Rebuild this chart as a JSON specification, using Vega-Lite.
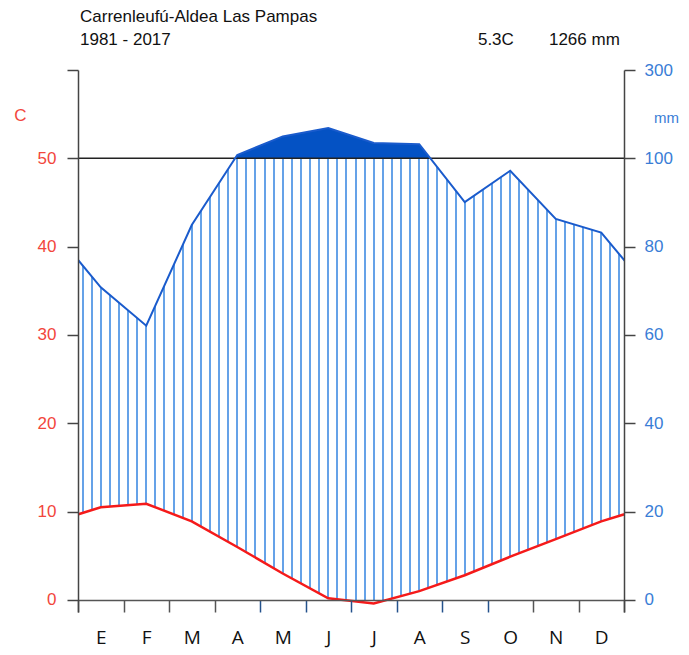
{
  "$schema": "https://vega.github.io/schema/vega-lite/v6.json",
  "width": 546,
  "height": 542,
  "autosize": {"type": "none"},
  "padding": {"left": 78, "top": 70, "right": 65, "bottom": 43},
  "background": "white",
  "data": {"values": [
    {"m": -0.5, "month": "D", "T": 8.9, "P": 83.2},
    {"m": 0.5, "month": "E", "T": 10.5, "P": 70.8},
    {"m": 1.5, "month": "F", "T": 10.9, "P": 62.1},
    {"m": 2.5, "month": "M", "T": 8.9, "P": 84.9},
    {"m": 3.5, "month": "A", "T": 6.0, "P": 107.6},
    {"m": 4.5, "month": "M", "T": 3.0, "P": 149.6},
    {"m": 5.5, "month": "J", "T": 0.2, "P": 168.4},
    {"m": 6.5, "month": "J", "T": -0.4, "P": 134.6},
    {"m": 7.5, "month": "A", "T": 1.0, "P": 132.0},
    {"m": 8.5, "month": "S", "T": 2.8, "P": 90.1},
    {"m": 9.5, "month": "O", "T": 4.9, "P": 97.2},
    {"m": 10.5, "month": "N", "T": 6.9, "P": 86.3},
    {"m": 11.5, "month": "D", "T": 8.9, "P": 83.2},
    {"m": 12.5, "month": "E", "T": 10.5, "P": 70.8}
  ]},
  "layer": [
    {
      "mark": {"type": "area", "clip": true, "color": {"gradient": "linear", "x1": 0, "y1": 0, "x2": 1, "y2": 0, "stops": [
        {"offset": 0, "color": "#fff"},
        {"offset": 0.0445, "color": "#fff"}, {"offset": 0.0445, "color": "#65a2e8"}, {"offset": 0.0479, "color": "#65a2e8"}, {"offset": 0.0479, "color": "#fff"},
        {"offset": 0.0598, "color": "#fff"}, {"offset": 0.0598, "color": "#65a2e8"}, {"offset": 0.0632, "color": "#65a2e8"}, {"offset": 0.0632, "color": "#fff"},
        {"offset": 0.0752, "color": "#fff"}, {"offset": 0.0752, "color": "#65a2e8"}, {"offset": 0.0786, "color": "#65a2e8"}, {"offset": 0.0786, "color": "#fff"},
        {"offset": 0.0906, "color": "#fff"}, {"offset": 0.0906, "color": "#65a2e8"}, {"offset": 0.0940, "color": "#65a2e8"}, {"offset": 0.0940, "color": "#fff"},
        {"offset": 0.1060, "color": "#fff"}, {"offset": 0.1060, "color": "#65a2e8"}, {"offset": 0.1094, "color": "#65a2e8"}, {"offset": 0.1094, "color": "#fff"},
        {"offset": 0.1214, "color": "#fff"}, {"offset": 0.1214, "color": "#65a2e8"}, {"offset": 0.1248, "color": "#65a2e8"}, {"offset": 0.1248, "color": "#fff"},
        {"offset": 0.1368, "color": "#fff"}, {"offset": 0.1368, "color": "#65a2e8"}, {"offset": 0.1402, "color": "#65a2e8"}, {"offset": 0.1402, "color": "#fff"},
        {"offset": 0.1521, "color": "#fff"}, {"offset": 0.1521, "color": "#65a2e8"}, {"offset": 0.1555, "color": "#65a2e8"}, {"offset": 0.1555, "color": "#fff"},
        {"offset": 0.1675, "color": "#fff"}, {"offset": 0.1675, "color": "#65a2e8"}, {"offset": 0.1709, "color": "#65a2e8"}, {"offset": 0.1709, "color": "#fff"},
        {"offset": 0.1829, "color": "#fff"}, {"offset": 0.1829, "color": "#65a2e8"}, {"offset": 0.1863, "color": "#65a2e8"}, {"offset": 0.1863, "color": "#fff"},
        {"offset": 0.1983, "color": "#fff"}, {"offset": 0.1983, "color": "#65a2e8"}, {"offset": 0.2017, "color": "#65a2e8"}, {"offset": 0.2017, "color": "#fff"},
        {"offset": 0.2137, "color": "#fff"}, {"offset": 0.2137, "color": "#65a2e8"}, {"offset": 0.2171, "color": "#65a2e8"}, {"offset": 0.2171, "color": "#fff"},
        {"offset": 0.2291, "color": "#fff"}, {"offset": 0.2291, "color": "#65a2e8"}, {"offset": 0.2325, "color": "#65a2e8"}, {"offset": 0.2325, "color": "#fff"},
        {"offset": 0.2445, "color": "#fff"}, {"offset": 0.2445, "color": "#65a2e8"}, {"offset": 0.2479, "color": "#65a2e8"}, {"offset": 0.2479, "color": "#fff"},
        {"offset": 0.2598, "color": "#fff"}, {"offset": 0.2598, "color": "#65a2e8"}, {"offset": 0.2632, "color": "#65a2e8"}, {"offset": 0.2632, "color": "#fff"},
        {"offset": 0.2752, "color": "#fff"}, {"offset": 0.2752, "color": "#65a2e8"}, {"offset": 0.2786, "color": "#65a2e8"}, {"offset": 0.2786, "color": "#fff"},
        {"offset": 0.2906, "color": "#fff"}, {"offset": 0.2906, "color": "#65a2e8"}, {"offset": 0.2940, "color": "#65a2e8"}, {"offset": 0.2940, "color": "#fff"},
        {"offset": 0.3060, "color": "#fff"}, {"offset": 0.3060, "color": "#65a2e8"}, {"offset": 0.3094, "color": "#65a2e8"}, {"offset": 0.3094, "color": "#fff"},
        {"offset": 0.3214, "color": "#fff"}, {"offset": 0.3214, "color": "#65a2e8"}, {"offset": 0.3248, "color": "#65a2e8"}, {"offset": 0.3248, "color": "#fff"},
        {"offset": 0.3368, "color": "#fff"}, {"offset": 0.3368, "color": "#65a2e8"}, {"offset": 0.3402, "color": "#65a2e8"}, {"offset": 0.3402, "color": "#fff"},
        {"offset": 0.3521, "color": "#fff"}, {"offset": 0.3521, "color": "#65a2e8"}, {"offset": 0.3555, "color": "#65a2e8"}, {"offset": 0.3555, "color": "#fff"},
        {"offset": 0.3675, "color": "#fff"}, {"offset": 0.3675, "color": "#65a2e8"}, {"offset": 0.3709, "color": "#65a2e8"}, {"offset": 0.3709, "color": "#fff"},
        {"offset": 0.3829, "color": "#fff"}, {"offset": 0.3829, "color": "#65a2e8"}, {"offset": 0.3863, "color": "#65a2e8"}, {"offset": 0.3863, "color": "#fff"},
        {"offset": 0.3983, "color": "#fff"}, {"offset": 0.3983, "color": "#65a2e8"}, {"offset": 0.4017, "color": "#65a2e8"}, {"offset": 0.4017, "color": "#fff"},
        {"offset": 0.4137, "color": "#fff"}, {"offset": 0.4137, "color": "#65a2e8"}, {"offset": 0.4171, "color": "#65a2e8"}, {"offset": 0.4171, "color": "#fff"},
        {"offset": 0.4291, "color": "#fff"}, {"offset": 0.4291, "color": "#65a2e8"}, {"offset": 0.4325, "color": "#65a2e8"}, {"offset": 0.4325, "color": "#fff"},
        {"offset": 0.4445, "color": "#fff"}, {"offset": 0.4445, "color": "#65a2e8"}, {"offset": 0.4479, "color": "#65a2e8"}, {"offset": 0.4479, "color": "#fff"},
        {"offset": 0.4598, "color": "#fff"}, {"offset": 0.4598, "color": "#65a2e8"}, {"offset": 0.4632, "color": "#65a2e8"}, {"offset": 0.4632, "color": "#fff"},
        {"offset": 0.4752, "color": "#fff"}, {"offset": 0.4752, "color": "#65a2e8"}, {"offset": 0.4786, "color": "#65a2e8"}, {"offset": 0.4786, "color": "#fff"},
        {"offset": 0.4906, "color": "#fff"}, {"offset": 0.4906, "color": "#65a2e8"}, {"offset": 0.4940, "color": "#65a2e8"}, {"offset": 0.4940, "color": "#fff"},
        {"offset": 0.5060, "color": "#fff"}, {"offset": 0.5060, "color": "#65a2e8"}, {"offset": 0.5094, "color": "#65a2e8"}, {"offset": 0.5094, "color": "#fff"},
        {"offset": 0.5214, "color": "#fff"}, {"offset": 0.5214, "color": "#65a2e8"}, {"offset": 0.5248, "color": "#65a2e8"}, {"offset": 0.5248, "color": "#fff"},
        {"offset": 0.5368, "color": "#fff"}, {"offset": 0.5368, "color": "#65a2e8"}, {"offset": 0.5402, "color": "#65a2e8"}, {"offset": 0.5402, "color": "#fff"},
        {"offset": 0.5521, "color": "#fff"}, {"offset": 0.5521, "color": "#65a2e8"}, {"offset": 0.5555, "color": "#65a2e8"}, {"offset": 0.5555, "color": "#fff"},
        {"offset": 0.5675, "color": "#fff"}, {"offset": 0.5675, "color": "#65a2e8"}, {"offset": 0.5709, "color": "#65a2e8"}, {"offset": 0.5709, "color": "#fff"},
        {"offset": 0.5829, "color": "#fff"}, {"offset": 0.5829, "color": "#65a2e8"}, {"offset": 0.5863, "color": "#65a2e8"}, {"offset": 0.5863, "color": "#fff"},
        {"offset": 0.5983, "color": "#fff"}, {"offset": 0.5983, "color": "#65a2e8"}, {"offset": 0.6017, "color": "#65a2e8"}, {"offset": 0.6017, "color": "#fff"},
        {"offset": 0.6137, "color": "#fff"}, {"offset": 0.6137, "color": "#65a2e8"}, {"offset": 0.6171, "color": "#65a2e8"}, {"offset": 0.6171, "color": "#fff"},
        {"offset": 0.6291, "color": "#fff"}, {"offset": 0.6291, "color": "#65a2e8"}, {"offset": 0.6325, "color": "#65a2e8"}, {"offset": 0.6325, "color": "#fff"},
        {"offset": 0.6445, "color": "#fff"}, {"offset": 0.6445, "color": "#65a2e8"}, {"offset": 0.6479, "color": "#65a2e8"}, {"offset": 0.6479, "color": "#fff"},
        {"offset": 0.6598, "color": "#fff"}, {"offset": 0.6598, "color": "#65a2e8"}, {"offset": 0.6632, "color": "#65a2e8"}, {"offset": 0.6632, "color": "#fff"},
        {"offset": 0.6752, "color": "#fff"}, {"offset": 0.6752, "color": "#65a2e8"}, {"offset": 0.6786, "color": "#65a2e8"}, {"offset": 0.6786, "color": "#fff"},
        {"offset": 0.6906, "color": "#fff"}, {"offset": 0.6906, "color": "#65a2e8"}, {"offset": 0.6940, "color": "#65a2e8"}, {"offset": 0.6940, "color": "#fff"},
        {"offset": 0.7060, "color": "#fff"}, {"offset": 0.7060, "color": "#65a2e8"}, {"offset": 0.7094, "color": "#65a2e8"}, {"offset": 0.7094, "color": "#fff"},
        {"offset": 0.7214, "color": "#fff"}, {"offset": 0.7214, "color": "#65a2e8"}, {"offset": 0.7248, "color": "#65a2e8"}, {"offset": 0.7248, "color": "#fff"},
        {"offset": 0.7368, "color": "#fff"}, {"offset": 0.7368, "color": "#65a2e8"}, {"offset": 0.7402, "color": "#65a2e8"}, {"offset": 0.7402, "color": "#fff"},
        {"offset": 0.7521, "color": "#fff"}, {"offset": 0.7521, "color": "#65a2e8"}, {"offset": 0.7555, "color": "#65a2e8"}, {"offset": 0.7555, "color": "#fff"},
        {"offset": 0.7675, "color": "#fff"}, {"offset": 0.7675, "color": "#65a2e8"}, {"offset": 0.7709, "color": "#65a2e8"}, {"offset": 0.7709, "color": "#fff"},
        {"offset": 0.7829, "color": "#fff"}, {"offset": 0.7829, "color": "#65a2e8"}, {"offset": 0.7863, "color": "#65a2e8"}, {"offset": 0.7863, "color": "#fff"},
        {"offset": 0.7983, "color": "#fff"}, {"offset": 0.7983, "color": "#65a2e8"}, {"offset": 0.8017, "color": "#65a2e8"}, {"offset": 0.8017, "color": "#fff"},
        {"offset": 0.8137, "color": "#fff"}, {"offset": 0.8137, "color": "#65a2e8"}, {"offset": 0.8171, "color": "#65a2e8"}, {"offset": 0.8171, "color": "#fff"},
        {"offset": 0.8291, "color": "#fff"}, {"offset": 0.8291, "color": "#65a2e8"}, {"offset": 0.8325, "color": "#65a2e8"}, {"offset": 0.8325, "color": "#fff"},
        {"offset": 0.8445, "color": "#fff"}, {"offset": 0.8445, "color": "#65a2e8"}, {"offset": 0.8479, "color": "#65a2e8"}, {"offset": 0.8479, "color": "#fff"},
        {"offset": 0.8598, "color": "#fff"}, {"offset": 0.8598, "color": "#65a2e8"}, {"offset": 0.8632, "color": "#65a2e8"}, {"offset": 0.8632, "color": "#fff"},
        {"offset": 0.8752, "color": "#fff"}, {"offset": 0.8752, "color": "#65a2e8"}, {"offset": 0.8786, "color": "#65a2e8"}, {"offset": 0.8786, "color": "#fff"},
        {"offset": 0.8906, "color": "#fff"}, {"offset": 0.8906, "color": "#65a2e8"}, {"offset": 0.8940, "color": "#65a2e8"}, {"offset": 0.8940, "color": "#fff"},
        {"offset": 0.9060, "color": "#fff"}, {"offset": 0.9060, "color": "#65a2e8"}, {"offset": 0.9094, "color": "#65a2e8"}, {"offset": 0.9094, "color": "#fff"},
        {"offset": 0.9214, "color": "#fff"}, {"offset": 0.9214, "color": "#65a2e8"}, {"offset": 0.9248, "color": "#65a2e8"}, {"offset": 0.9248, "color": "#fff"},
        {"offset": 0.9368, "color": "#fff"}, {"offset": 0.9368, "color": "#65a2e8"}, {"offset": 0.9402, "color": "#65a2e8"}, {"offset": 0.9402, "color": "#fff"},
        {"offset": 0.9521, "color": "#fff"}, {"offset": 0.9521, "color": "#65a2e8"}, {"offset": 0.9555, "color": "#65a2e8"}, {"offset": 0.9555, "color": "#fff"},
        {"offset": 1, "color": "#fff"}
      ]}},
      "encoding": {
        "x": {"field": "m", "type": "quantitative", "scale": {"domain": [0, 12], "nice": false, "zero": false},
          "axis": {"orient": "bottom", "offset": -12, "values": [0,1,2,3,4,5,6,7,8,9,10,11,12], "labelExpr": "datum.value < 12 ? ['E','F','M','A','M','J','J','A','S','O','N','D'][datum.value] : ''", "labelOffset": 22.75, "labelFlush": false, "labelOverlap": false, "labelBound": false, "tickSize": 12, "tickWidth": 1.5, "tickColor": {"condition": {"test": "datum.value >= 4 && datum.value <= 9", "value": "#24528c"}, "value": "#555555"}, "domainColor": "#555555", "domainWidth": 1.5, "labelFont": "Open Sans", "labelFontSize": 19, "labelColor": "#111111", "labelPadding": 16, "title": null, "grid": false, "zindex": 1}},
        "y": {"field": "P", "type": "quantitative", "scale": {"domain": [-2.717, 100, 300], "range": [542, 88.333, 0], "nice": false, "zero": false}, "axis": null},
        "y2": {"datum": 0}
      }
    },
    {
      "mark": {"type": "area", "clip": true, "color": {"gradient": "linear", "x1": 0, "y1": 0, "x2": 0, "y2": 1, "stops": [
        {"offset": 0, "color": "#0452c4"}, {"offset": 0.0641, "color": "#0452c4"}, {"offset": 0.0641, "color": "rgba(4,82,196,0)"}, {"offset": 1, "color": "rgba(4,82,196,0)"}
      ]}},
      "encoding": {
        "x": {"field": "m", "type": "quantitative", "scale": {"domain": [0, 12], "nice": false, "zero": false}},
        "y": {"field": "P", "type": "quantitative", "scale": {"domain": [-2.717, 100, 300], "range": [542, 88.333, 0], "nice": false, "zero": false}, "axis": null},
        "y2": {"datum": 0}
      }
    },
    {
      "mark": {"type": "area", "clip": true, "color": "white"},
      "encoding": {
        "x": {"field": "m", "type": "quantitative", "scale": {"domain": [0, 12], "nice": false, "zero": false}},
        "y": {"field": "T", "type": "quantitative", "scale": {"domain": [-1.3585, 60], "range": [542, 0], "nice": false, "zero": false}, "axis": null},
        "y2": {"datum": 0}
      }
    },
    {
      "data": {"values": [{"level": 50}]},
      "mark": {"type": "rule", "color": "#222222", "strokeWidth": 1.5},
      "encoding": {
        "y": {"field": "level", "type": "quantitative", "scale": {"domain": [-1.3585, 60], "range": [542, 0], "nice": false, "zero": false}, "axis": null}
      }
    },
    {
      "mark": {"type": "line", "clip": true, "color": "#1a5bcc", "strokeWidth": 2},
      "encoding": {
        "x": {"field": "m", "type": "quantitative", "scale": {"domain": [0, 12], "nice": false, "zero": false}},
        "y": {"field": "P", "type": "quantitative", "scale": {"domain": [-2.717, 100, 300], "range": [542, 88.333, 0], "nice": false, "zero": false},
          "axis": {"orient": "right", "values": [0, 20, 40, 60, 80, 100, 300], "tickSize": 11, "tickWidth": 1.5, "tickColor": "#444444", "domainColor": "#444444", "domainWidth": 1.5, "labelColor": "#3a7dd6", "labelFont": "Liberation Sans", "labelFontSize": 17, "labelPadding": 9, "labelFlush": false, "labelOverlap": false, "title": "mm", "titleColor": "#3a7dd6", "titleFont": "Liberation Sans", "titleFontSize": 15, "titleFontWeight": "normal", "titleAngle": 0, "titleX": 42, "titleY": 47, "titleAlign": "center", "titleBaseline": "middle", "grid": false, "zindex": 1}}
      }
    },
    {
      "mark": {"type": "line", "clip": true, "color": "#f51a1a", "strokeWidth": 2.5},
      "encoding": {
        "x": {"field": "m", "type": "quantitative", "scale": {"domain": [0, 12], "nice": false, "zero": false}},
        "y": {"field": "T", "type": "quantitative", "scale": {"domain": [-1.3585, 60], "range": [542, 0], "nice": false, "zero": false},
          "axis": {"orient": "left", "values": [0, 10, 20, 30, 40, 50, 60], "labelExpr": "datum.value == 60 ? '' : datum.label", "tickSize": 11, "tickWidth": 1.5, "tickColor": "#444444", "domainColor": "#444444", "domainWidth": 1.5, "labelColor": "#f2463c", "labelFont": "Liberation Sans", "labelFontSize": 17, "labelPadding": 11, "labelFlush": false, "labelOverlap": false, "title": "C", "titleColor": "#f2463c", "titleFont": "Liberation Sans", "titleFontSize": 17, "titleFontWeight": "normal", "titleAngle": 0, "titleX": -58, "titleY": 45, "titleAlign": "center", "titleBaseline": "middle", "grid": false, "zindex": 1}}
      }
    },
    {
      "data": {"values": [{"label": "Carrenleufú-Aldea Las Pampas"}]},
      "mark": {"type": "text", "align": "left", "baseline": "alphabetic", "font": "Liberation Sans", "fontSize": 17, "color": "#111111", "clip": false},
      "encoding": {
        "text": {"field": "label"},
        "x": {"datum": 0.044, "type": "quantitative", "scale": {"domain": [0, 12], "nice": false, "zero": false}},
        "y": {"datum": 65.45, "type": "quantitative", "scale": {"domain": [-1.3585, 60], "range": [542, 0], "nice": false, "zero": false}, "axis": null}
      }
    },
    {
      "data": {"values": [{"label": "1981 - 2017"}]},
      "mark": {"type": "text", "align": "left", "baseline": "alphabetic", "font": "Liberation Sans", "fontSize": 17, "color": "#111111", "clip": false},
      "encoding": {
        "text": {"field": "label"},
        "x": {"datum": 0.044, "type": "quantitative", "scale": {"domain": [0, 12], "nice": false, "zero": false}},
        "y": {"datum": 62.83, "type": "quantitative", "scale": {"domain": [-1.3585, 60], "range": [542, 0], "nice": false, "zero": false}, "axis": null}
      }
    },
    {
      "data": {"values": [{"label": "5.3C"}]},
      "mark": {"type": "text", "align": "left", "baseline": "alphabetic", "font": "Liberation Sans", "fontSize": 17, "color": "#111111", "clip": false},
      "encoding": {
        "text": {"field": "label"},
        "x": {"datum": 8.79, "type": "quantitative", "scale": {"domain": [0, 12], "nice": false, "zero": false}},
        "y": {"datum": 62.83, "type": "quantitative", "scale": {"domain": [-1.3585, 60], "range": [542, 0], "nice": false, "zero": false}, "axis": null}
      }
    },
    {
      "data": {"values": [{"label": "1266 mm"}]},
      "mark": {"type": "text", "align": "left", "baseline": "alphabetic", "font": "Liberation Sans", "fontSize": 17, "color": "#111111", "clip": false},
      "encoding": {
        "text": {"field": "label"},
        "x": {"datum": 10.35, "type": "quantitative", "scale": {"domain": [0, 12], "nice": false, "zero": false}},
        "y": {"datum": 62.83, "type": "quantitative", "scale": {"domain": [-1.3585, 60], "range": [542, 0], "nice": false, "zero": false}, "axis": null}
      }
    }
  ],
  "resolve": {"scale": {"y": "independent"}, "axis": {"y": "independent"}},
  "config": {"view": {"stroke": null}, "axis": {"grid": false}}
}
